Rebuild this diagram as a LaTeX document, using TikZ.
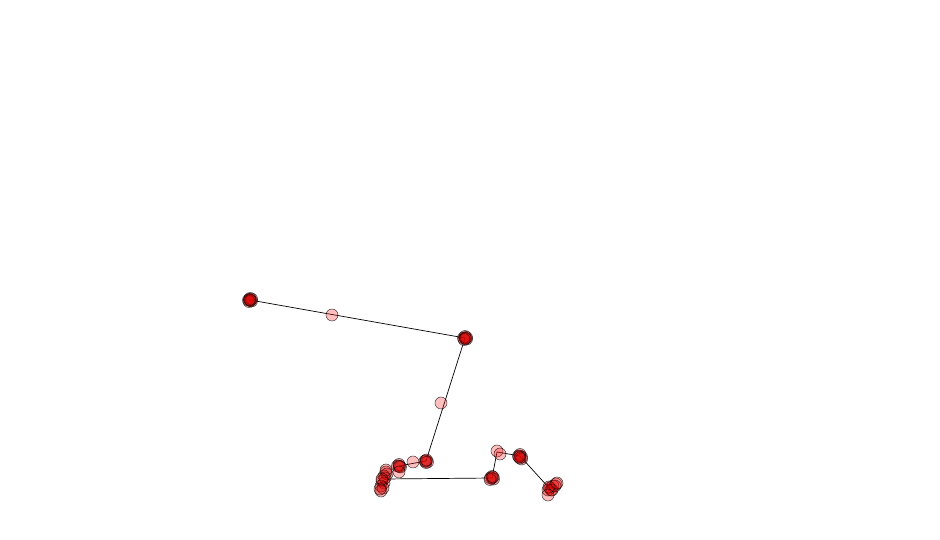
\documentclass[tikz,border=0pt]{standalone}
\begin{document}
\begin{tikzpicture}[x=1pt,y=-1pt,
  pt/.style={circle,draw=black,draw opacity=0.7,line width=0.55pt,fill=red!85!black,fill opacity=0.3,minimum size=12pt,inner sep=0pt},
  lt/.style={circle,draw=black,draw opacity=0.7,line width=0.55pt,fill=red,fill opacity=0.25,minimum size=12pt,inner sep=0pt},
  edge/.style={draw=black,line width=0.7pt}]
\useasboundingbox (0,0) rectangle (940,540);
\coordinate (cA) at (250,300);
\coordinate (cC) at (465,338);
\coordinate (cE) at (426,461);
\coordinate (cG) at (399,466);
\coordinate (cH) at (384,479);
\coordinate (cI) at (492,478);
\coordinate (cJ) at (497,452);
\coordinate (cK) at (520,456);
\coordinate (cL) at (550,489);
\draw[edge] (cA) -- (cC) -- (cE) -- (cG);
\draw[edge] (cH) -- (cI) -- (cJ) -- (cK) -- (cL);
% cluster A
\foreach \i/\dx/\dy in {a1/0/0,a2/1.5/1,a3/-1.5/0,a4/0/-1.5,a5/1.5/-1,a6/-1/1.5,a7/0.5/0.5,a8/-0.5/-0.5} \node[pt] (\i) at (250+\dx,300+\dy) {};
\node[lt] (b) at (332,315) {};
% cluster C
\foreach \i/\dx/\dy in {c1/0/0,c2/1.5/1,c3/-1.5/0,c4/0/-1.5,c5/1.5/-0.5,c6/-1/1.5,c7/0.5/0.5} \node[pt] (\i) at (465+\dx,338+\dy) {};
\node[lt] (d) at (441,403) {};
% cluster E
\foreach \i/\dx/\dy in {e1/0/0,e2/1.5/1,e3/-1/0,e4/0/1.5,e5/0.5/-1} \node[pt] (\i) at (426+\dx,461+\dy) {};
\node[lt] (f) at (413,462) {};
% cluster G
\foreach \i/\dx/\dy in {g1/0/0,g2/1.5/1,g3/-1.5/0,g4/0/-1.5,g6/0.5/0.5} \node[pt] (\i) at (399+\dx,466+\dy) {};
\node[lt] (g5) at (399,472) {};
% cluster H (chain)
\foreach \i/\x/\y in {h1/386/472,h2/387/474,h3/384/476,h4/385/478,h5/382/481,h6/384/483,h7/381/486,h8/383/488,h9/381/491,h10/380/489,h11/386/470,h12/382/479} \node[pt] (\i) at (\x,\y) {};
% cluster I
\foreach \i/\dx/\dy in {i1/0/0,i2/1.5/1,i3/-1.5/0,i4/0/-1.5,i5/-2/1.5,i6/1/-1} \node[pt] (\i) at (492+\dx,478+\dy) {};
% cluster J
\node[lt] (j1) at (497,451) {};
\node[lt] (j2) at (500,454) {};
% cluster K
\foreach \i/\dx/\dy in {k1/0/0,k2/1.5/1,k3/-1.5/0,k4/0/-1.5,k5/1.5/3,k6/0/2,k7/-1/1} \node[pt] (\i) at (520+\dx,456+\dy) {};
% cluster L
\foreach \i/\x/\y in {l1/550/488,l2/551/490,l3/548/490,l4/553/486,l5/556/484,l6/555/486,l8/552/490,l9/549/487} \node[pt] (\i) at (\x,\y) {};
\node[lt] (l7) at (548,495) {};
\node[lt] (l10) at (557,483) {};
\end{tikzpicture}
\end{document}
